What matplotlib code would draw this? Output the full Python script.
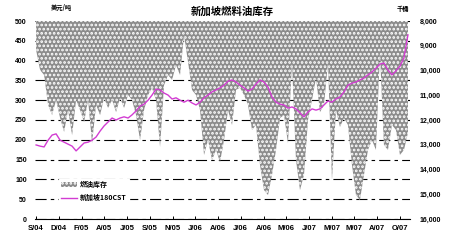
import numpy as np
import matplotlib
matplotlib.use('Agg')
import matplotlib.pyplot as plt
from matplotlib.patches import Patch
from matplotlib.lines import Line2D
from matplotlib.ticker import FuncFormatter

plt.rcParams['font.family'] = ['Liberation Sans', 'DejaVu Sans']
plt.rcParams['hatch.linewidth'] = 1.3
plt.rcParams['lines.scale_dashes'] = False
cn_font = ['Noto Sans CJK SC', 'DejaVu Sans']

# 新加坡180CST价格, 美元/吨 (读图估计, 周度)
price = [187, 184, 182, 199, 212, 215, 199, 194, 189, 184,
         172, 182, 192, 194, 199, 207, 222, 235, 245, 255,
         250, 255, 258, 255, 263, 273, 285, 290, 300, 313,
         328, 326, 318, 313, 303, 306, 300, 295, 300, 293,
         288, 295, 306, 313, 321, 326, 331, 338, 348, 351,
         346, 338, 331, 323, 328, 341, 351, 346, 333, 308,
         295, 290, 288, 280, 283, 278, 268, 258, 270, 278,
         275, 278, 288, 298, 295, 303, 308, 321, 338, 343,
         346, 351, 356, 364, 371, 381, 391, 394, 376, 364,
         374, 386, 407, 465]

# 燃油库存, 千桶
stock = [9170, 9980, 10180, 11390, 11800, 11190, 11920, 12480, 11600, 12610,
         11190, 11600, 12080, 11190, 12930, 11390, 11800, 11110, 11510, 11190,
         11680, 11110, 11510, 10990, 11190, 11800, 12810, 11600, 10990, 10710,
         11190, 13090, 10590, 10180, 10380, 9780, 10180, 8570, 9660, 10790,
         10990, 11600, 13410, 12810, 13620, 13210, 13700, 12810, 11600, 12200,
         10780, 10700, 10990, 11390, 12400, 12200, 13820, 14830, 15030, 14220,
         13210, 11920, 11800, 12930, 9700, 13620, 14830, 14220, 12000, 11190,
         10300, 11680, 11390, 9700, 14420, 11600, 12280, 11920, 12200, 13820,
         15030, 15230, 14220, 13210, 12810, 13210, 9290, 13010, 13210, 12200,
         12400, 13410, 13210, 12520]

date_labels = ['S/04', 'D/04', 'F/05', 'A/05', 'J/05', 'S/05', 'N/05', 'J/06', 'A/06',
               'J/06', 'A/06', 'M/06', 'J/07', 'M/07', 'M/07', 'A/07', 'O/07']

weeks = np.arange(len(price))

fig = plt.figure(figsize=(4.5, 2.5), dpi=100)
ax = fig.add_axes([0.078, 0.124, 0.833, 0.792])

# left axis: grid + labels
ax.set_xlim(-0.25, 93.5)
ax.set_ylim(0, 500)
ax.set_yticks(np.arange(0, 501, 50))
ax.yaxis.grid(True, color='black', linewidth=0.8, linestyle=(0, (8, 3, 2.5, 3)))
ax.set_axisbelow(True)
ax.tick_params(axis='y', length=0, pad=6, labelsize=5)
for lab in ax.get_yticklabels():
    lab.set_fontweight('bold')
ax.set_xticks(np.linspace(0, 91, len(date_labels)))
ax.set_xticklabels(date_labels, fontsize=5.5, fontweight='bold')
ax.tick_params(axis='x', direction='in', length=2.5, width=0.7, pad=4)
for s in ['top', 'left', 'right']:
    ax.spines[s].set_visible(False)
ax.spines['bottom'].set_linewidth(0.8)

# right axis: inventory area, reversed
ax2 = ax.twinx()
ax2.fill_between(weeks, 8000, stock, facecolor='#8c8c8c', edgecolor='white',
                 hatch='....', linewidth=0)
ax2.set_ylim(16000, 8000)
ax2.set_yticks(np.arange(8000, 16001, 1000))
ax2.yaxis.set_major_formatter(FuncFormatter(lambda v, p: f'{v:,.0f}'))
ax2.tick_params(axis='y', length=0, pad=7, labelsize=5)
for lab in ax2.get_yticklabels():
    lab.set_fontweight('bold')
for s in ax2.spines.values():
    s.set_visible(False)

# price line on top, left scale
ax3 = ax.twinx()
ax3.plot(weeks, price, color='#d23cd2', linewidth=1.0)
ax3.set_ylim(0, 500)
ax3.set_yticks([])
for s in ax3.spines.values():
    s.set_visible(False)

handles = [Patch(facecolor='#8c8c8c', edgecolor='white', hatch='....', linewidth=0),
           Line2D([], [], color='#d23cd2', linewidth=1.0)]
leg = ax3.legend(handles, ['燃油库存', '新加坡180CST'], loc='upper left',
                 bbox_to_anchor=(0.055, 0.22), frameon=True, fancybox=False,
                 edgecolor='white', framealpha=1, handlelength=2.2, handleheight=0.6,
                 borderpad=0.3, labelspacing=0.9, handletextpad=0.5,
                 prop={'family': cn_font, 'size': 5, 'weight': 'bold'})

fig.text(0.516, 0.952, '新加坡燃料油库存', ha='center', va='center',
         fontsize=7.5, fontweight='bold', family=cn_font)
fig.text(0.137, 0.972, '美元/吨', ha='center', va='center',
         fontsize=4.5, fontweight='bold', family=cn_font)
fig.text(0.895, 0.968, '千桶', ha='center', va='center',
         fontsize=4.5, fontweight='bold', family=cn_font)

fig.savefig('out.png', dpi=100)
